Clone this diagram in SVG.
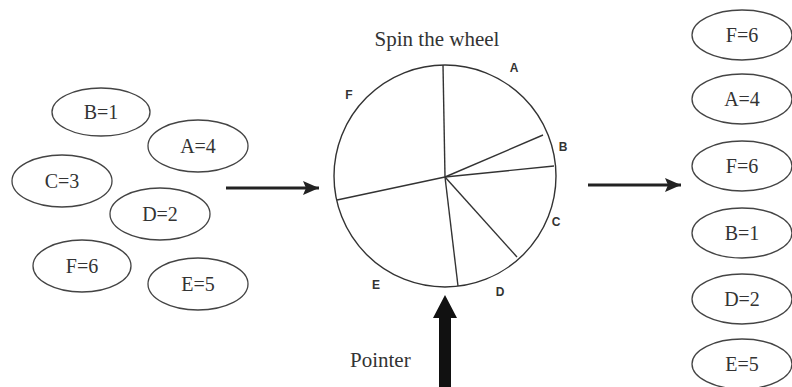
<svg xmlns="http://www.w3.org/2000/svg" width="792" height="387" viewBox="0 0 792 387">
  <defs>
    <style>
      .node ellipse { fill: #fff; stroke: #444; stroke-width: 1.3; }
      .node text { font-family: "Liberation Serif", "Times New Roman", serif; font-size: 20px; fill: #333; text-anchor: middle; }
      .wheel-line { stroke: #333; stroke-width: 1.4; fill: none; }
      .seg { font-family: "Liberation Sans", Arial, sans-serif; font-size: 12px; font-weight: bold; fill: #333; text-anchor: middle; }
      .caption { font-family: "Liberation Serif", "Times New Roman", serif; font-size: 21px; fill: #333; }
      .conn { stroke: #222; stroke-width: 3; fill: none; }
    </style>
    <marker id="arrowhead" viewBox="0 0 16 14" refX="16" refY="7" markerWidth="16" markerHeight="14" markerUnits="userSpaceOnUse" orient="auto">
      <path d="M0,0 L16,7 L0,14 L3,7 Z" fill="#222"/>
    </marker>
  </defs>

  <rect width="792" height="387" fill="#fff"/>

  <!-- input tickets -->
  <g id="in-B1" class="node"><ellipse cx="101" cy="112" rx="49" ry="24"/><text x="101" y="119">B=1</text></g>
  <g id="in-A4" class="node"><ellipse cx="198" cy="146" rx="50" ry="26"/><text x="198" y="153">A=4</text></g>
  <g id="in-C3" class="node"><ellipse cx="62" cy="181" rx="50" ry="26"/><text x="62" y="188">C=3</text></g>
  <g id="in-D2" class="node"><ellipse cx="160" cy="214" rx="50" ry="26"/><text x="160" y="221">D=2</text></g>
  <g id="in-F6" class="node"><ellipse cx="82" cy="266" rx="49" ry="26"/><text x="82" y="273">F=6</text></g>
  <g id="in-E5" class="node"><ellipse cx="198" cy="284" rx="50" ry="26"/><text x="198" y="291">E=5</text></g>

  <!-- roulette wheel -->
  <g id="wheel">
    <text class="caption" x="437" y="46" text-anchor="middle">Spin the wheel</text>
    <circle class="wheel-line" cx="445" cy="176" r="111"/>
    <line class="wheel-line" x1="445" y1="177" x2="443" y2="65"/>
    <line class="wheel-line" x1="445" y1="177" x2="543" y2="135"/>
    <line class="wheel-line" x1="445" y1="177" x2="554" y2="166"/>
    <line class="wheel-line" x1="445" y1="177" x2="517" y2="257"/>
    <line class="wheel-line" x1="445" y1="177" x2="458" y2="286"/>
    <line class="wheel-line" x1="445" y1="177" x2="337" y2="200"/>
    <text class="seg" x="514" y="72">A</text>
    <text class="seg" x="563" y="151">B</text>
    <text class="seg" x="556" y="226">C</text>
    <text class="seg" x="500" y="296">D</text>
    <text class="seg" x="376" y="289">E</text>
    <text class="seg" x="349" y="99">F</text>
  </g>

  <!-- pointer -->
  <g id="pointer">
    <path d="M445,295 L457,318 L451,318 L451,387 L439,387 L439,318 L433,318 Z" fill="#111"/>
    <text class="caption" x="350" y="367">Pointer</text>
  </g>

  <!-- selected tickets -->
  <g id="out-F6a" class="node"><ellipse cx="742" cy="35" rx="50" ry="25"/><text x="742" y="42">F=6</text></g>
  <g id="out-A4" class="node"><ellipse cx="742" cy="99" rx="50" ry="25"/><text x="742" y="106">A=4</text></g>
  <g id="out-F6b" class="node"><ellipse cx="742" cy="166" rx="50" ry="25"/><text x="742" y="173">F=6</text></g>
  <g id="out-B1" class="node"><ellipse cx="742" cy="233" rx="50" ry="25"/><text x="742" y="240">B=1</text></g>
  <g id="out-D2" class="node"><ellipse cx="742" cy="299" rx="50" ry="25"/><text x="742" y="306">D=2</text></g>
  <g id="out-E5" class="node"><ellipse cx="742" cy="364" rx="50" ry="25"/><text x="742" y="371">E=5</text></g>

  <!-- connectors -->
  <g id="connectors">
    <line class="conn" x1="226" y1="188" x2="319" y2="188" marker-end="url(#arrowhead)"/>
    <line class="conn" x1="588" y1="185" x2="681" y2="185" marker-end="url(#arrowhead)"/>
  </g>
</svg>
